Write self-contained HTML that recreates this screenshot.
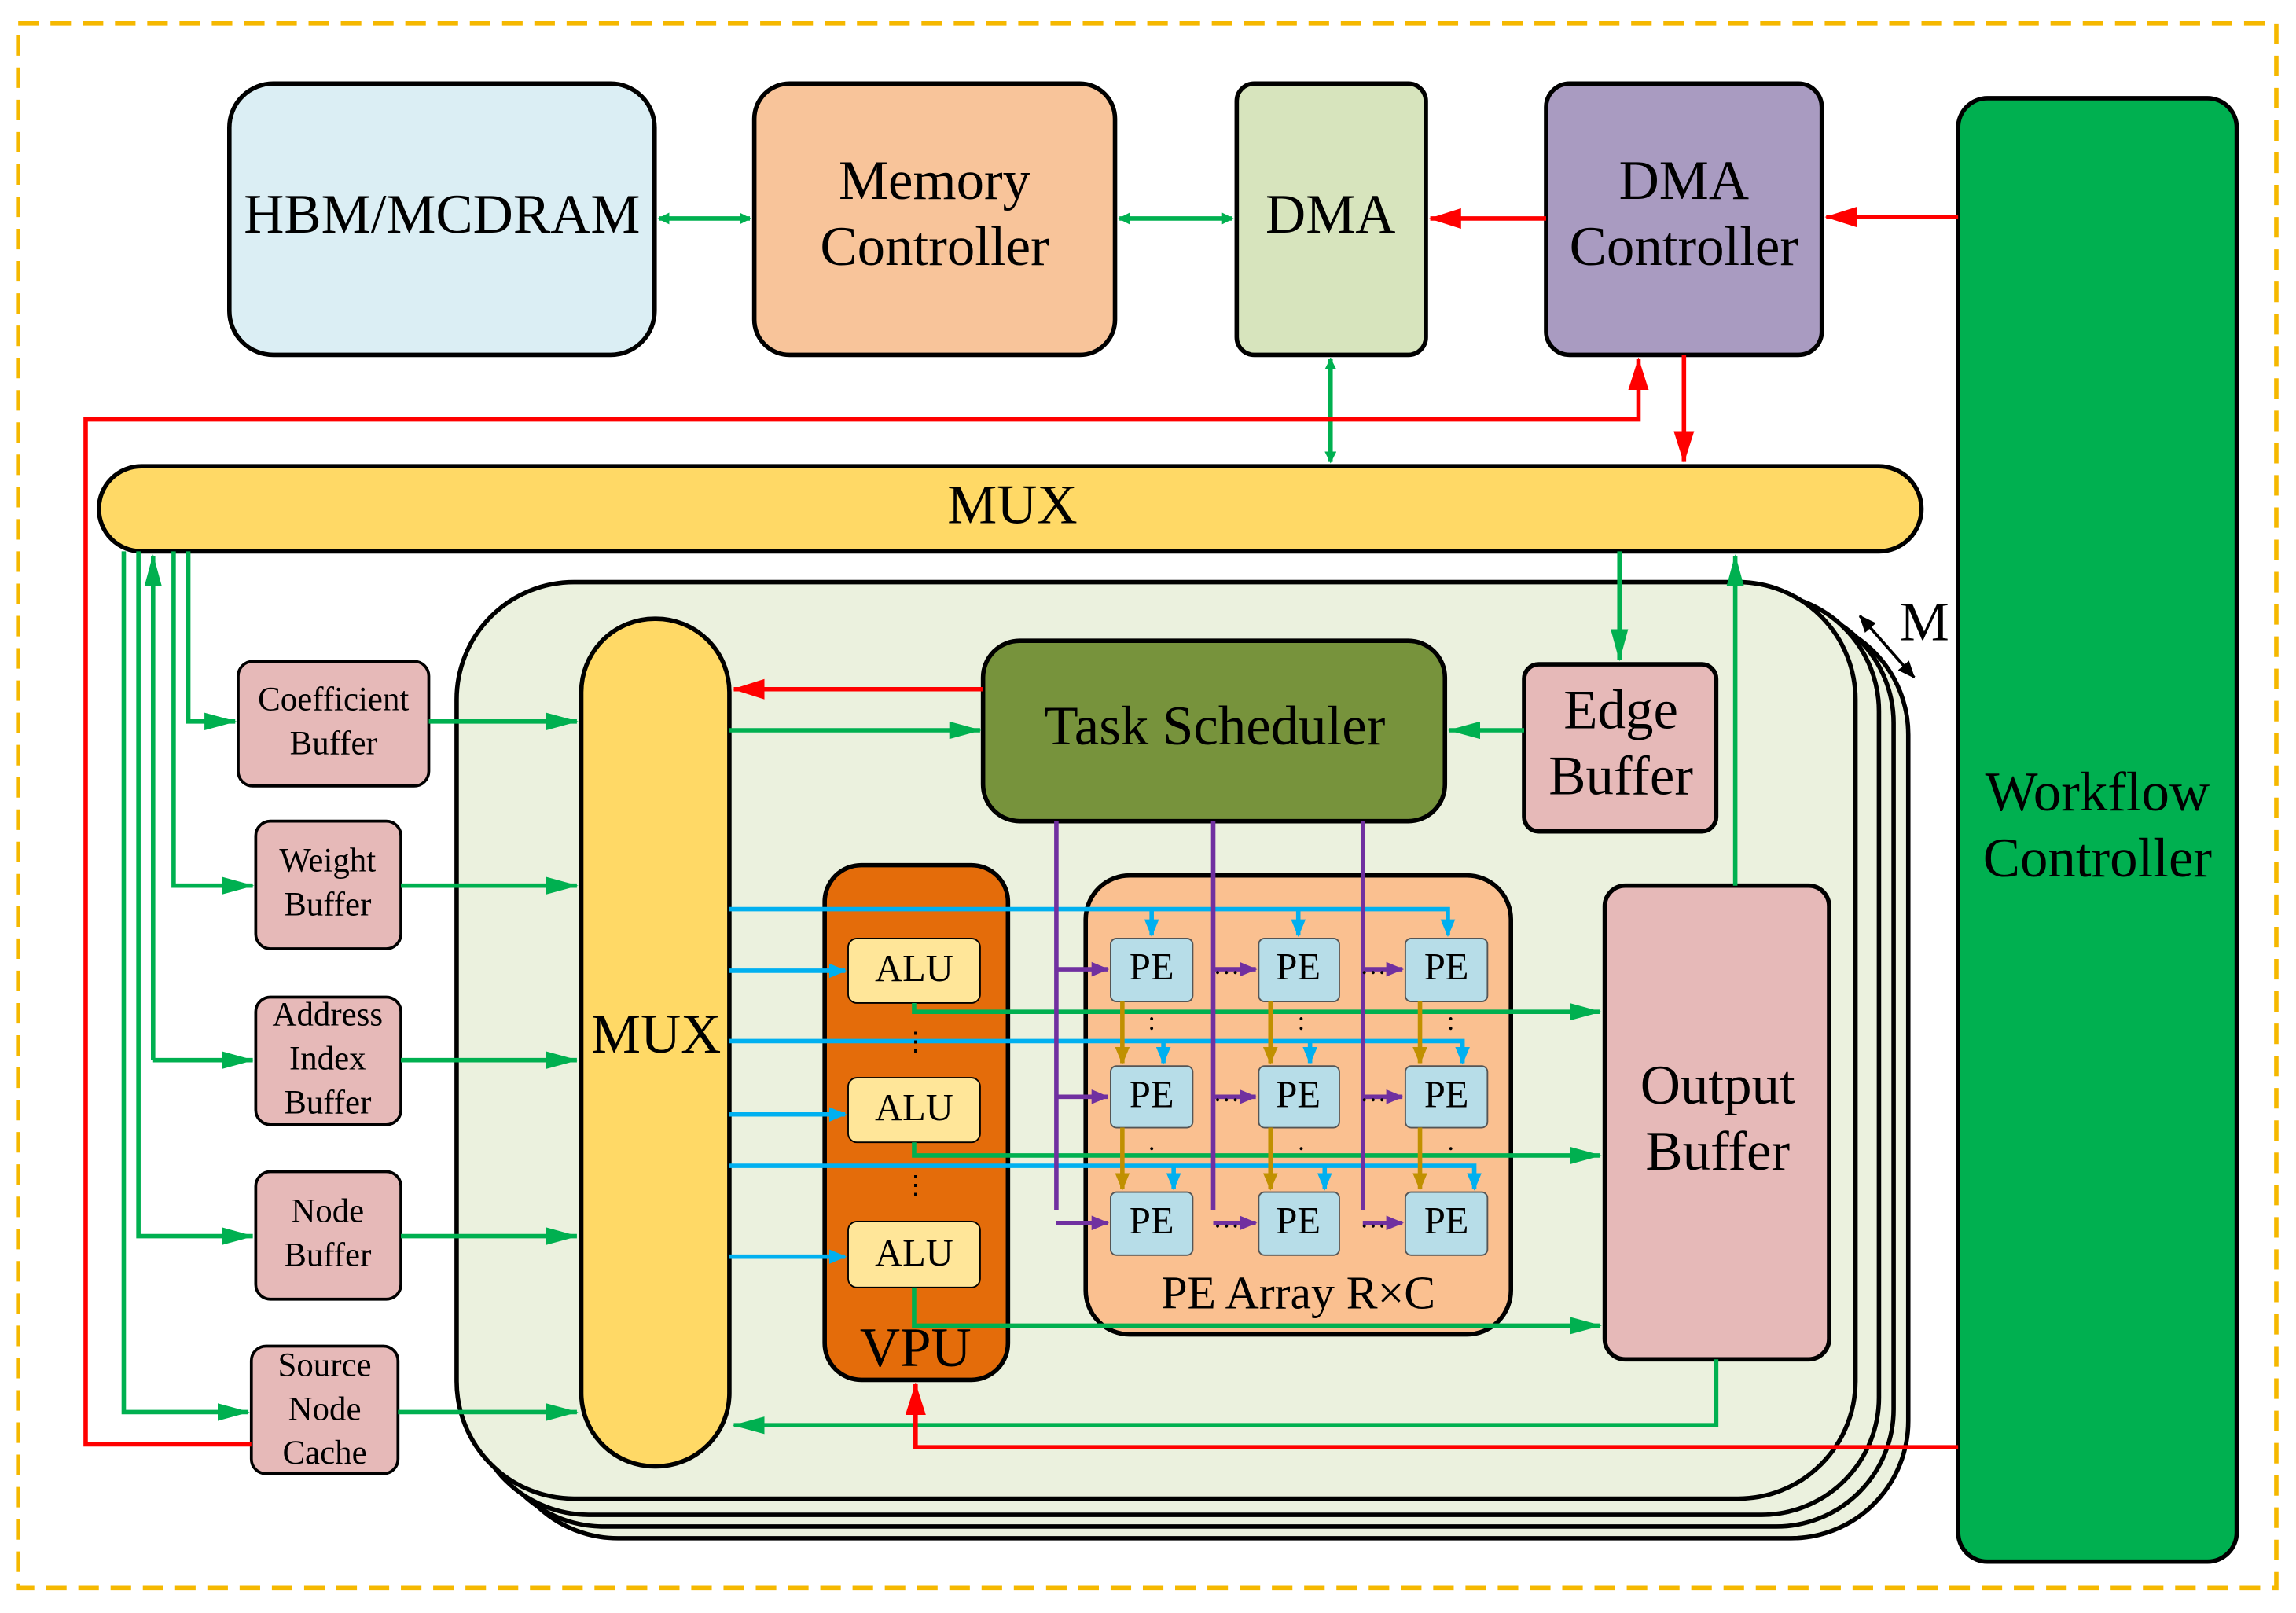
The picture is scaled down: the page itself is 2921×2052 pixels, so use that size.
<!DOCTYPE html>
<html><head><meta charset="utf-8"><style>html,body{margin:0;padding:0;background:#fff}svg{display:block}text{font-family:"Liberation Serif",serif;text-anchor:middle;dominant-baseline:middle;fill:#000}</style></head><body>
<svg width="2921" height="2052" viewBox="0 0 1565 1100" xmlns="http://www.w3.org/2000/svg">
<defs>
<marker id="g" markerWidth="8" markerHeight="8" refX="7" refY="4" orient="auto-start-reverse" markerUnits="userSpaceOnUse"><path d="M0,0L8,4L0,8z" fill="#00b050"/></marker>
<marker id="G" markerWidth="22" markerHeight="12" refX="21" refY="6" orient="auto-start-reverse" markerUnits="userSpaceOnUse"><path d="M0,0L22,6L0,12z" fill="#00b050"/></marker>
<marker id="r" markerWidth="22" markerHeight="14" refX="21" refY="7" orient="auto-start-reverse" markerUnits="userSpaceOnUse"><path d="M0,0L22,7L0,14z" fill="#ff0000"/></marker>
<marker id="b" markerWidth="12" markerHeight="10" refX="11" refY="5" orient="auto" markerUnits="userSpaceOnUse"><path d="M0,0L12,5L0,10z" fill="#00b0f0"/></marker>
<marker id="p" markerWidth="12" markerHeight="10" refX="11" refY="5" orient="auto" markerUnits="userSpaceOnUse"><path d="M0,0L12,5L0,10z" fill="#7030a0"/></marker>
<marker id="o" markerWidth="12" markerHeight="10" refX="11" refY="5" orient="auto" markerUnits="userSpaceOnUse"><path d="M0,0L12,5L0,10z" fill="#c09000"/></marker>
<marker id="k" markerWidth="12" markerHeight="10" refX="11" refY="5" orient="auto-start-reverse" markerUnits="userSpaceOnUse"><path d="M0,0L12,5L0,10z" fill="#000"/></marker>
</defs>
<rect x="12" y="16" width="1540" height="1067" fill="none" stroke="#f5b800" stroke-width="3" stroke-dasharray="14,8"/>
<g stroke="#000" stroke-width="3">
<rect x="156" y="57" width="290" height="185" rx="30" fill="#dbeef4"/>
<rect x="514" y="57" width="246" height="185" rx="24" fill="#f8c49a"/>
<rect x="843" y="57" width="129" height="185" rx="12" fill="#d7e4bd"/>
<rect x="1054" y="57" width="188" height="185" rx="16" fill="#a99bc1"/>
<rect x="1335" y="67" width="190" height="998" rx="20" fill="#00b050"/>
<rect x="67" y="318" width="1243" height="58" rx="29" fill="#ffd966"/>
<rect x="341" y="421" width="960" height="628" rx="80" fill="#ebf1de"/>
<rect x="331" y="413" width="960" height="628" rx="80" fill="#ebf1de"/>
<rect x="321" y="405" width="960" height="628" rx="80" fill="#ebf1de"/>
<rect x="311" y="397" width="954" height="625" rx="80" fill="#ebf1de"/>
<rect x="396" y="422" width="101" height="578" rx="50" fill="#ffd966"/>
<rect x="670" y="437" width="315" height="123" rx="25" fill="#77933c"/>
<rect x="1039" y="453" width="131" height="114" rx="10" fill="#e6b9b8"/>
<rect x="1094" y="604" width="153" height="323" rx="14" fill="#e6b9b8"/>
<rect x="562" y="590" width="125" height="351" rx="25" fill="#e46c0a"/>
<rect x="740" y="597" width="290" height="313" rx="30" fill="#fac090"/>
<rect x="162" y="451" width="130" height="85" rx="10" fill="#e6b9b8" stroke-width="2"/>
<rect x="174" y="560" width="99" height="87" rx="10" fill="#e6b9b8" stroke-width="2"/>
<rect x="174" y="680" width="99" height="87" rx="10" fill="#e6b9b8" stroke-width="2"/>
<rect x="174" y="799" width="99" height="87" rx="10" fill="#e6b9b8" stroke-width="2"/>
<rect x="171" y="918" width="100" height="87" rx="10" fill="#e6b9b8" stroke-width="2"/>
</g>
<g stroke="#000" stroke-width="1" fill="#ffe699">
<rect x="578" y="640" width="90" height="44" rx="6"/><rect x="578" y="735" width="90" height="44" rx="6"/><rect x="578" y="833" width="90" height="45" rx="6"/>
</g>
<g stroke="#555" stroke-width="1" fill="#b7dde8">
<rect x="757" y="640" width="56" height="43" rx="4"/><rect x="858" y="640" width="55" height="43" rx="4"/><rect x="958" y="640" width="56" height="43" rx="4"/>
<rect x="757" y="727" width="56" height="42" rx="4"/><rect x="858" y="727" width="55" height="42" rx="4"/><rect x="958" y="727" width="56" height="42" rx="4"/>
<rect x="757" y="813" width="56" height="43" rx="4"/><rect x="858" y="813" width="55" height="43" rx="4"/><rect x="958" y="813" width="56" height="43" rx="4"/>
</g>
<g stroke="#00b050" stroke-width="3" fill="none">
<path d="M449,149H511" marker-start="url(#g)" marker-end="url(#g)"/>
<path d="M763,149H840" marker-start="url(#g)" marker-end="url(#g)"/>
<path d="M907,245V315" marker-start="url(#g)" marker-end="url(#g)"/>
<path d="M1104,376V450" marker-end="url(#G)"/>
<path d="M1183,604V379" marker-end="url(#G)"/>
<path d="M1170,927V972H500" marker-end="url(#G)"/>
<path d="M497,498H668" marker-end="url(#G)"/>
<path d="M1039,498H988" marker-end="url(#G)"/>
<path d="M128,376V492H160" marker-end="url(#G)"/>
<path d="M118,376V604H172" marker-end="url(#G)"/>
<path d="M104,723H172" marker-end="url(#G)"/>
<path d="M104,723V379" marker-end="url(#G)"/>
<path d="M94,376V843H172" marker-end="url(#G)"/>
<path d="M84,376V963H169" marker-end="url(#G)"/>
<path d="M292,492H393" marker-end="url(#G)"/>
<path d="M273,604H393" marker-end="url(#G)"/>
<path d="M273,723H393" marker-end="url(#G)"/>
<path d="M273,843H393" marker-end="url(#G)"/>
<path d="M271,963H393" marker-end="url(#G)"/>
<path d="M623,684V690H1091" marker-end="url(#G)"/>
<path d="M623,779V788H1091" marker-end="url(#G)"/>
<path d="M623,878V904H1091" marker-end="url(#G)"/>
</g>
<g stroke="#ff0000" stroke-width="3" fill="none">
<path d="M1054,149H975" marker-end="url(#r)"/>
<path d="M1335,148H1245" marker-end="url(#r)"/>
<path d="M1148,242V315" marker-end="url(#r)"/>
<path d="M171,985H58V286H1117V245" marker-end="url(#r)"/>
<path d="M1335,987H624V944" marker-end="url(#r)"/>
<path d="M670,470H500" marker-end="url(#r)"/>
</g>
<g stroke="#00b0f0" stroke-width="3" fill="none">
<path d="M497,620H987V638" marker-end="url(#b)"/>
<path d="M785,620V638" marker-end="url(#b)"/><path d="M885,620V638" marker-end="url(#b)"/>
<path d="M497,662H576" marker-end="url(#b)"/>
<path d="M497,710H997V725" marker-end="url(#b)"/>
<path d="M793,710V725" marker-end="url(#b)"/><path d="M893,710V725" marker-end="url(#b)"/>
<path d="M497,760H576" marker-end="url(#b)"/>
<path d="M497,795H1005V811" marker-end="url(#b)"/>
<path d="M800,795V811" marker-end="url(#b)"/><path d="M903,795V811" marker-end="url(#b)"/>
<path d="M497,857H576" marker-end="url(#b)"/>
</g>
<g stroke="#7030a0" stroke-width="3" fill="none">
<path d="M720,560V825"/><path d="M827,560V825"/><path d="M929,560V825"/>
<path d="M720,661H755" marker-end="url(#p)"/><path d="M720,748H755" marker-end="url(#p)"/><path d="M720,834H755" marker-end="url(#p)"/>
<path d="M827,661H856" marker-end="url(#p)"/><path d="M827,748H856" marker-end="url(#p)"/><path d="M827,834H856" marker-end="url(#p)"/>
<path d="M929,661H956" marker-end="url(#p)"/><path d="M929,748H956" marker-end="url(#p)"/><path d="M929,834H956" marker-end="url(#p)"/>
</g>
<g stroke="#c09000" stroke-width="3" fill="none">
<path d="M765,683V725" marker-end="url(#o)"/><path d="M866,683V725" marker-end="url(#o)"/><path d="M968,683V725" marker-end="url(#o)"/>
<path d="M765,769V811" marker-end="url(#o)"/><path d="M866,769V811" marker-end="url(#o)"/><path d="M968,769V811" marker-end="url(#o)"/>
</g>
<path d="M1268,420L1305,462" stroke="#000" stroke-width="2" marker-start="url(#k)" marker-end="url(#k)" fill="none"/>
<g font-size="38">
<text x="301" y="150">HBM/MCDRAM</text>
<text x="637" y="127">Memory</text><text x="637" y="172">Controller</text>
<text x="907" y="150">DMA</text>
<text x="1148" y="127">DMA</text><text x="1148" y="172">Controller</text>
<text x="690" y="348">MUX</text>
<text x="1430" y="544">Workflow</text><text x="1430" y="589">Controller</text>
<text x="447" y="709">MUX</text>
<text x="828" y="499">Task Scheduler</text>
<text x="1105" y="488">Edge</text><text x="1105" y="533">Buffer</text>
<text x="1171" y="744">Output</text><text x="1171" y="789">Buffer</text>
<text x="624" y="923">VPU</text>
<text x="1312" y="428">M</text>
</g>
<g font-size="32"><text x="885" y="885">PE Array R×C</text></g>
<g font-size="26">
<text x="623" y="663">ALU</text><text x="623" y="758">ALU</text><text x="623" y="857">ALU</text>
<text x="785" y="662">PE</text><text x="885" y="662">PE</text><text x="986" y="662">PE</text>
<text x="785" y="749">PE</text><text x="885" y="749">PE</text><text x="986" y="749">PE</text>
<text x="785" y="835">PE</text><text x="885" y="835">PE</text><text x="986" y="835">PE</text>
</g>
<g font-size="18">
<text x="836" y="660">…</text><text x="936" y="660">…</text>
<text x="836" y="747">…</text><text x="936" y="747">…</text>
<text x="836" y="833">…</text><text x="936" y="833">…</text>
<text x="624" y="712">⋮</text><text x="624" y="810">⋮</text>
<text x="785" y="698">:</text><text x="887" y="698">:</text><text x="989" y="698">:</text>
<text x="785" y="780">.</text><text x="887" y="780">.</text><text x="989" y="780">.</text>
</g>
<g font-size="23">
<text x="227" y="479">Coefficient</text><text x="227" y="509">Buffer</text>
<text x="223" y="589">Weight</text><text x="223" y="619">Buffer</text>
<text x="223" y="694">Address</text><text x="223" y="724">Index</text><text x="223" y="754">Buffer</text>
<text x="223" y="828">Node</text><text x="223" y="858">Buffer</text>
<text x="221" y="933">Source</text><text x="221" y="963">Node</text><text x="221" y="993">Cache</text>
</g>
</svg>
</body></html>
